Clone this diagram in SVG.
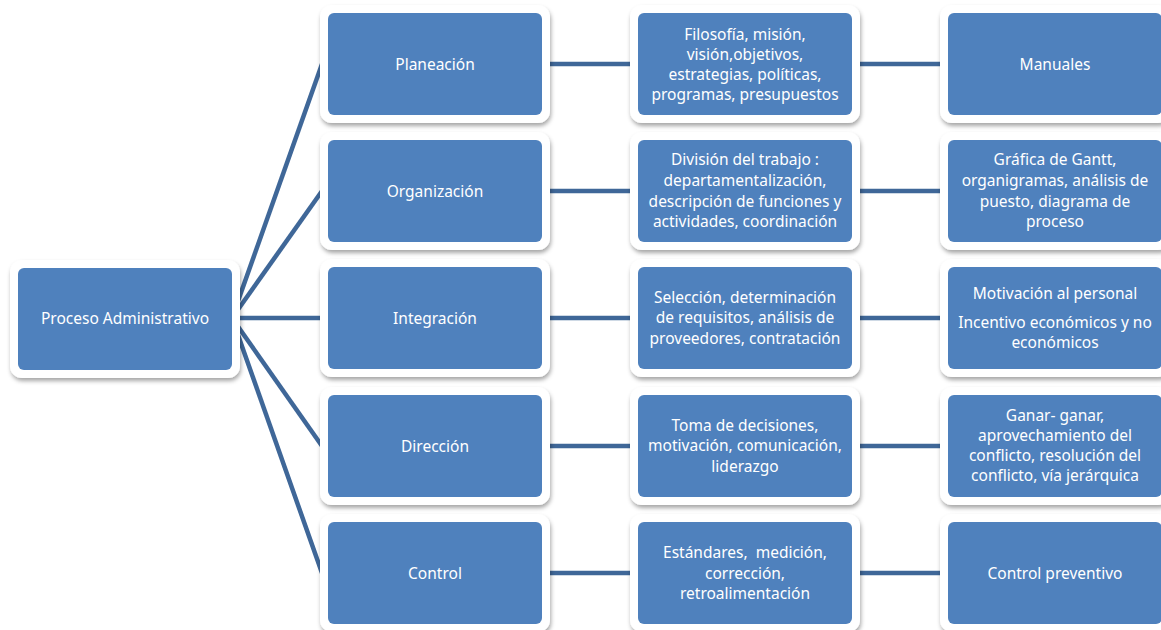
<svg xmlns="http://www.w3.org/2000/svg" width="1161" height="630" viewBox="0 0 1161 630">
<defs>
<filter id="sh" x="-10%" y="-10%" width="125%" height="130%">
<feDropShadow dx="1" dy="3" stdDeviation="2.2" flood-color="#000" flood-opacity="0.35"/>
</filter>
</defs>
<style>
.frame{fill:#fff;filter:url(#sh)}
.box{fill:#4F81BD}
.t{font-family:"Noto Sans","Open Sans",sans-serif;font-size:15.5px;fill:#fff;text-anchor:middle}
.c{stroke:#3F6798;stroke-width:4.5;fill:none;stroke-linecap:butt}
</style>
<rect width="1161" height="630" fill="#fff"/>
<g id="connectors">
<line class="c" x1="232" y1="318" x2="322" y2="64"/>
<line class="c" x1="232" y1="318" x2="322" y2="191"/>
<line class="c" x1="232" y1="318" x2="322" y2="318"/>
<line class="c" x1="232" y1="318" x2="322" y2="446"/>
<line class="c" x1="232" y1="318" x2="322" y2="573"/>
<line class="c" x1="542" y1="64" x2="638" y2="64"/>
<line class="c" x1="852" y1="64" x2="948" y2="64"/>
<line class="c" x1="542" y1="191" x2="638" y2="191"/>
<line class="c" x1="852" y1="191" x2="948" y2="191"/>
<line class="c" x1="542" y1="318" x2="638" y2="318"/>
<line class="c" x1="852" y1="318" x2="948" y2="318"/>
<line class="c" x1="542" y1="446" x2="638" y2="446"/>
<line class="c" x1="852" y1="446" x2="948" y2="446"/>
<line class="c" x1="542" y1="573" x2="638" y2="573"/>
<line class="c" x1="852" y1="573" x2="948" y2="573"/>
</g>
<g id="root">
<rect class="frame" x="10" y="260" width="230" height="118" rx="12"/>
<rect class="box" x="18" y="268" width="214" height="102" rx="6"/>
<text class="t" x="125" y="324">Proceso Administrativo</text>
</g>
<g id="planeacion">
<rect class="frame" x="320" y="5" width="230" height="118" rx="12"/>
<rect class="box" x="328" y="13" width="214" height="102" rx="6"/>
<text class="t" x="435" y="70">Planeación</text>
</g>
<g id="organizacion">
<rect class="frame" x="320" y="132" width="230" height="118" rx="12"/>
<rect class="box" x="328" y="140" width="214" height="102" rx="6"/>
<text class="t" x="435" y="197">Organización</text>
</g>
<g id="integracion">
<rect class="frame" x="320" y="259" width="230" height="118" rx="12"/>
<rect class="box" x="328" y="267" width="214" height="102" rx="6"/>
<text class="t" x="435" y="324">Integración</text>
</g>
<g id="direccion">
<rect class="frame" x="320" y="387" width="230" height="118" rx="12"/>
<rect class="box" x="328" y="395" width="214" height="102" rx="6"/>
<text class="t" x="435" y="452">Dirección</text>
</g>
<g id="control">
<rect class="frame" x="320" y="514" width="230" height="118" rx="12"/>
<rect class="box" x="328" y="522" width="214" height="102" rx="6"/>
<text class="t" x="435" y="579">Control</text>
</g>
<g id="planeacion-detalle">
<rect class="frame" x="630" y="5" width="230" height="118" rx="12"/>
<rect class="box" x="638" y="13" width="214" height="102" rx="6"/>
<text class="t" x="745" y="40">Filosofía, misión,</text>
<text class="t" x="745" y="60">visión,objetivos,</text>
<text class="t" x="745" y="80">estrategias, políticas,</text>
<text class="t" x="745" y="100">programas, presupuestos</text>
</g>
<g id="organizacion-detalle">
<rect class="frame" x="630" y="132" width="230" height="118" rx="12"/>
<rect class="box" x="638" y="140" width="214" height="102" rx="6"/>
<text class="t" x="745" y="165">División del trabajo :</text>
<text class="t" x="745" y="186">departamentalización,</text>
<text class="t" x="745" y="207">descripción de funciones y</text>
<text class="t" x="745" y="227">actividades, coordinación</text>
</g>
<g id="integracion-detalle">
<rect class="frame" x="630" y="259" width="230" height="118" rx="12"/>
<rect class="box" x="638" y="267" width="214" height="102" rx="6"/>
<text class="t" x="745" y="303">Selección, determinación</text>
<text class="t" x="745" y="323">de requisitos, análisis de</text>
<text class="t" x="745" y="344">proveedores, contratación</text>
</g>
<g id="direccion-detalle">
<rect class="frame" x="630" y="387" width="230" height="118" rx="12"/>
<rect class="box" x="638" y="395" width="214" height="102" rx="6"/>
<text class="t" x="745" y="431">Toma de decisiones,</text>
<text class="t" x="745" y="451">motivación, comunicación,</text>
<text class="t" x="745" y="472">liderazgo</text>
</g>
<g id="control-detalle">
<rect class="frame" x="630" y="514" width="230" height="118" rx="12"/>
<rect class="box" x="638" y="522" width="214" height="102" rx="6"/>
<text class="t" x="745" y="558" xml:space="preserve">Estándares,  medición,</text>
<text class="t" x="745" y="579">corrección,</text>
<text class="t" x="745" y="599">retroalimentación</text>
</g>
<g id="manuales">
<rect class="frame" x="940" y="5" width="230" height="118" rx="12"/>
<rect class="box" x="948" y="13" width="214" height="102" rx="6"/>
<text class="t" x="1055" y="70">Manuales</text>
</g>
<g id="gantt">
<rect class="frame" x="940" y="132" width="230" height="118" rx="12"/>
<rect class="box" x="948" y="140" width="214" height="102" rx="6"/>
<text class="t" x="1055" y="165">Gráfica de Gantt,</text>
<text class="t" x="1055" y="186">organigramas, análisis de</text>
<text class="t" x="1055" y="207">puesto, diagrama de</text>
<text class="t" x="1055" y="227">proceso</text>
</g>
<g id="motivacion">
<rect class="frame" x="940" y="259" width="230" height="118" rx="12"/>
<rect class="box" x="948" y="267" width="214" height="102" rx="6"/>
<text class="t" x="1055" y="299">Motivación al personal</text>
<text class="t" x="1055" y="328">Incentivo económicos y no</text>
<text class="t" x="1055" y="348">económicos</text>
</g>
<g id="ganar">
<rect class="frame" x="940" y="387" width="230" height="118" rx="12"/>
<rect class="box" x="948" y="395" width="214" height="102" rx="6"/>
<text class="t" x="1055" y="421">Ganar- ganar,</text>
<text class="t" x="1055" y="441">aprovechamiento del</text>
<text class="t" x="1055" y="461">conflicto, resolución del</text>
<text class="t" x="1055" y="481">conflicto, vía jerárquica</text>
</g>
<g id="preventivo">
<rect class="frame" x="940" y="514" width="230" height="118" rx="12"/>
<rect class="box" x="948" y="522" width="214" height="102" rx="6"/>
<text class="t" x="1055" y="579">Control preventivo</text>
</g>
</svg>
